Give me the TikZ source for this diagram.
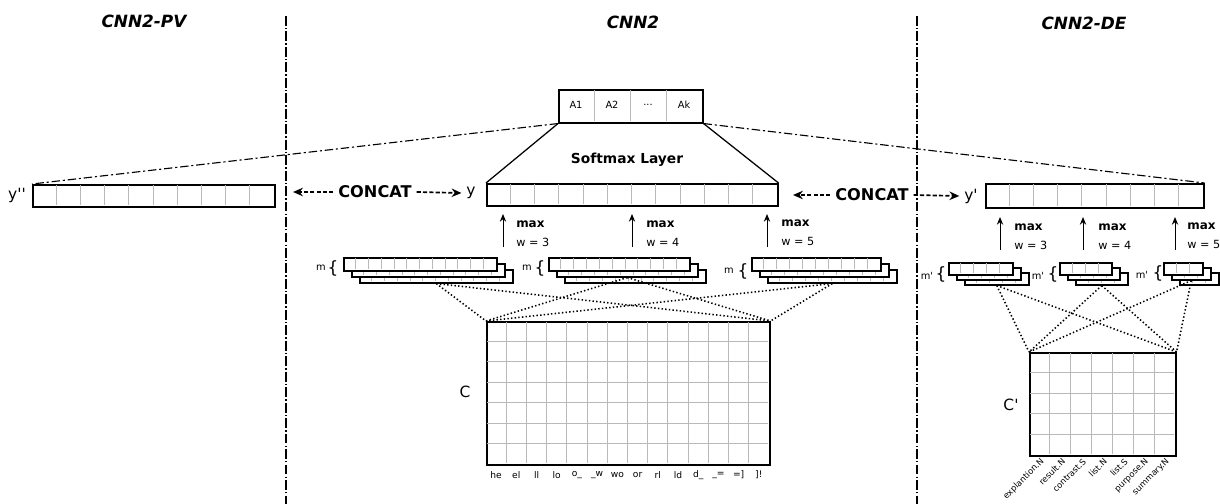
\documentclass[tikz,border=0pt]{standalone}
\usepackage{fontspec}
\setmainfont{DejaVu Sans}
\usetikzlibrary{arrows.meta}
\begin{document}
\begin{tikzpicture}[x=0.025cm,y=-0.025cm,
    sz/.style 2 args={minimum width=#1*0.025cm,minimum height=#2*0.025cm},
    vec/.style={draw,line width=1.1pt,fill=white,inner sep=0pt,anchor=north west},
    cell/.style={draw=gray!55,line width=0.6pt,shorten <=0.55pt,shorten >=0.55pt},
    sep/.style={line width=1.4pt,dash pattern=on 7pt off 1.5pt on 1pt off 1.5pt},
    link/.style={line width=0.8pt,dash pattern=on 6pt off 2pt on 1.5pt off 2pt},
    concat/.style={line width=1.2pt,dash pattern=on 3pt off 1.5pt,-{Stealth[length=7pt,width=6pt]}},
    pool/.style={line width=0.7pt,-{Stealth[length=5.5pt,width=4.5pt]}},
    conv/.style={line width=1.1pt,dash pattern=on 1pt off 1.6pt},
    title/.style={font=\bfseries\itshape\fontsize{12}{14}\selectfont},
    big/.style={font=\bfseries\fontsize{11.5}{13}\selectfont},
    vlab/.style={font=\fontsize{11}{13}\selectfont},
    maxlab/.style={font=\bfseries\fontsize{8.5}{10}\selectfont,anchor=west,inner sep=0pt},
    wlab/.style={font=\fontsize{8}{10}\selectfont,anchor=west,inner sep=0pt},
    small/.style={font=\fontsize{7}{8}\selectfont},
    brace/.style={font=\fontsize{12}{14}\selectfont,inner sep=0pt},
    collab/.style={font=\fontsize{6.5}{8}\selectfont},
    rotlab/.style={font=\fontsize{6}{7}\selectfont,rotate=45,anchor=east,inner sep=1pt}]
  \useasboundingbox (0,0) rectangle (1220,504);

  % titles and separators
  \node[title] (tpv) at (144,21) {CNN2-PV};
  \node[title] (tc) at (633,22) {CNN2};
  \node[title] (tde) at (1084,23) {CNN2-DE};
  \draw[sep] (286,16) -- (286,504);
  \draw[sep] (917,16) -- (917,504);

  % output vectors
  \node[vec,sz={144}{33}] (out) at (558,89) {};
  \foreach \i in {1,2,3} \draw[cell] (558+36*\i,89) -- ++(0,33);
  \node[small] (a1) at (576,105) {A1};
  \node[small] (a2) at (612,105) {A2};
  \node[small] (a3) at (648,105) {...};
  \node[small] (a4) at (684,105) {Ak};
  \node[vec,sz={291}{22}] (yc) at (486,183) {};
  \foreach \i in {1,...,11} \draw[cell] (486+24.25*\i,183) -- ++(0,22);
  \node[vec,sz={242}{22}] (ypv) at (32,184) {};
  \foreach \i in {1,...,9} \draw[cell] (32+24.2*\i,184) -- ++(0,22);
  \node[vec,sz={218}{24}] (yde) at (985,183) {};
  \foreach \i in {1,...,8} \draw[cell] (985+24.22*\i,183) -- ++(0,24);
  \node[vlab] (lyc) at (471,193) {y};
  \node[vlab] (lypv) at (17,195) {y\textquotesingle\textquotesingle};
  \node[vlab] (lyde) at (971,196) {y\textquotesingle};

  % softmax layer
  \draw[line width=0.9pt] (out.south west) -- (yc.north west);
  \draw[line width=0.9pt] (out.south east) -- (yc.north east);
  \node[font=\bfseries\fontsize{9.8}{11}\selectfont] (soft) at (627,160) {Softmax Layer};
  \draw[link] (out.south west) -- (ypv.north west);
  \draw[link] (out.south east) -- (yde.north east);

  % concat
  \node[big] (cc1) at (375,192) {CONCAT};
  \node[big] (cc2) at (872,195) {CONCAT};
  \coordinate (e1) at (293,192);
  \coordinate (e2) at (793,195);
  \draw[concat] (cc1.west) -- (e1);
  \draw[concat] (cc1.east) -- (lyc.west);
  \draw[concat] (cc2.west) -- (e2);
  \draw[concat] (cc2.east) -- (lyde.west);

  % feature maps, CNN2
  \foreach \k in {2,1,0} {
    \node[vec,sz={153}{13}] (m1\k) at (343+8*\k,257+6*\k) {};
    \foreach \i in {1,...,11} \draw[cell] (343+8*\k+12.75*\i,257+6*\k) -- ++(0,13);
    \node[vec,sz={141}{13}] (m2\k) at (548+8*\k,257+6*\k) {};
    \foreach \i in {1,...,10} \draw[cell] (548+8*\k+12.82*\i,257+6*\k) -- ++(0,13);
    \node[vec,sz={129}{13}] (m3\k) at (751+8*\k,257+6*\k) {};
    \foreach \i in {1,...,9} \draw[cell] (751+8*\k+12.9*\i,257+6*\k) -- ++(0,13);
  }
  \node[small] (mm1) at (321,268) {m};
  \node[brace] (b1) at (333,268) {\{};
  \node[small] (mm2) at (527,268) {m};
  \node[brace] (b2) at (540,268) {\{};
  \node[small] (mm3) at (729,271) {m};
  \node[brace] (b3) at (743,271) {\{};

  % pooling, CNN2
  \foreach \x/\n in {503/3,632/4,767/5} {
    \coordinate (p\n a) at (\x,247);
    \coordinate (p\n b) at (\x,214);
    \draw[pool] (p\n a) -- (p\n b);
  }
  \node[maxlab] (x3) at (516,224) {max};
  \node[wlab] (w3) at (516,242) {w = 3};
  \node[maxlab] (x4) at (646,224) {max};
  \node[wlab] (w4) at (646,242) {w = 4};
  \node[maxlab] (x5) at (781,223) {max};
  \node[wlab] (w5) at (781,241) {w = 5};

  % char matrix C
  \node[vec,sz={283}{143}] (C) at (486,321) {};
  \foreach \i in {1,...,13} \draw[cell] (486+20.21*\i,321) -- ++(0,143);
  \foreach \j in {1,...,6} \draw[cell] (486,321+20.43*\j) -- ++(283,0);
  \node[vlab] (lc) at (465,392) {C};
  \foreach \t [count=\i] in {he,el,ll,lo,o\_,\_w,wo,or,rl,ld,d\_,\_=,{=]},{]!}}
    \node[collab] (c\i) at (486+20.21*\i-10.1,475) {\t};
  \foreach \s in {m12,m21,m32} {
    \draw[conv] (\s.south) -- (C.north west);
    \draw[conv] (\s.south) -- (C.north east);
  }

  % feature maps, CNN2-DE
  \foreach \k in {2,1,0} {
    \node[vec,sz={64}{12}] (d1\k) at (948+8*\k,262+5*\k) {};
    \foreach \i in {1,...,4} \draw[cell] (948+8*\k+12.8*\i,262+5*\k) -- ++(0,12);
    \node[vec,sz={52}{12}] (d2\k) at (1059+8*\k,262+5*\k) {};
    \foreach \i in {1,...,3} \draw[cell] (1059+8*\k+13*\i,262+5*\k) -- ++(0,12);
    \node[vec,sz={39}{12}] (d3\k) at (1163+8*\k,262+5*\k) {};
    \foreach \i in {1,2} \draw[cell] (1163+8*\k+13*\i,262+5*\k) -- ++(0,12);
  }
  \node[small] (dm1) at (927,276) {m\textquotesingle};
  \node[brace] (db1) at (941,274) {\{};
  \node[small] (dm2) at (1038,276) {m\textquotesingle};
  \node[brace] (db2) at (1053,274) {\{};
  \node[small] (dm3) at (1142,275) {m\textquotesingle};
  \node[brace] (db3) at (1158,273) {\{};

  % pooling, CNN2-DE
  \foreach \x/\n in {1000/3,1083/4,1175/5} {
    \coordinate (q\n a) at (\x,250);
    \coordinate (q\n b) at (\x,217);
    \draw[pool] (q\n a) -- (q\n b);
  }
  \node[maxlab] (y3) at (1014,227) {max};
  \node[wlab] (v3) at (1014,245) {w = 3};
  \node[maxlab] (y4) at (1098,227) {max};
  \node[wlab] (v4) at (1098,245) {w = 4};
  \node[maxlab] (y5) at (1187,226) {max};
  \node[wlab] (v5) at (1187,244) {w = 5};

  % discourse matrix C'
  \node[vec,sz={146}{103}] (Cd) at (1029,352) {};
  \foreach \i in {1,...,6} \draw[cell] (1029+20.86*\i,352) -- ++(0,103);
  \foreach \j in {1,...,4} \draw[cell] (1029,352+20.6*\j) -- ++(146,0);
  \node[vlab] (lcd) at (1011,405) {C\textquotesingle};
  \foreach \t [count=\i] in {explantion.N,result.N,contrast.S,list.N,list.S,purpose.N,summary.N}
    \node[rotlab] (r\i) at (1029+20.86*\i-6,459) {\t};
  \foreach \s in {d12,d22,d31} {
    \draw[conv] (\s.south) -- (Cd.north west);
    \draw[conv] (\s.south) -- (Cd.north east);
  }
\end{tikzpicture}
\end{document}
